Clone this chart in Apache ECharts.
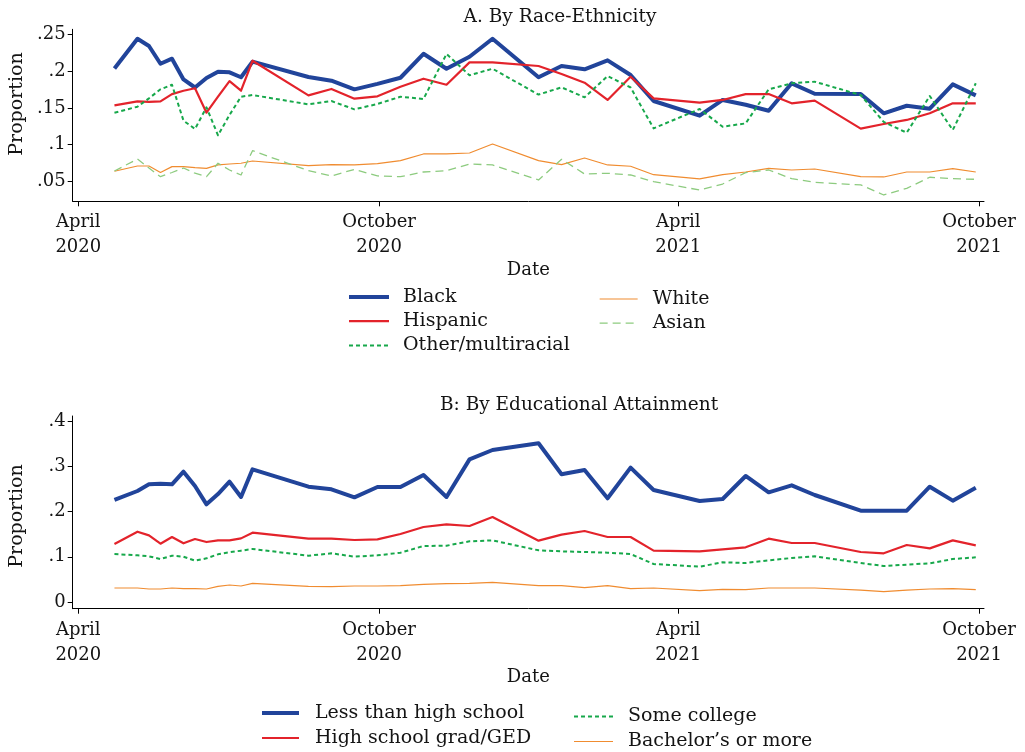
<!DOCTYPE html>
<html>
<head>
<meta charset="utf-8">
<title>Proportion by group, April 2020 – October 2021</title>
<script src="https://cdn.jsdelivr.net/npm/echarts@6/dist/echarts.min.js"></script>
<style>
  html, body { margin: 0; padding: 0; background: #fff; }
  #chart { width: 1025px; height: 752px; }
</style>
</head>
<body>
<div id="chart"></div>
<script>
// Survey week start dates (Household Pulse weeks 1–39)
const weekDates = [
  '2020-04-23','2020-05-07','2020-05-14','2020-05-21','2020-05-28','2020-06-04','2020-06-11',
  '2020-06-18','2020-06-25','2020-07-02','2020-07-09','2020-07-16','2020-08-19','2020-09-02',
  '2020-09-16','2020-09-30','2020-10-14','2020-10-28','2020-11-11','2020-11-25','2020-12-09',
  '2021-01-06','2021-01-20','2021-02-03','2021-02-17','2021-03-03','2021-03-17','2021-04-14',
  '2021-04-28','2021-05-12','2021-05-26','2021-06-09','2021-06-23','2021-07-21','2021-08-04',
  '2021-08-18','2021-09-01','2021-09-15','2021-09-29'
];

// Panel A: by race-ethnicity
const black = [0.204, 0.2445, 0.2346, 0.2104, 0.2173, 0.189, 0.178, 0.191, 0.1995, 0.1987, 0.192, 0.2132, 0.1923, 0.1873, 0.1755, 0.183, 0.1913, 0.224, 0.2036, 0.22, 0.2445, 0.192, 0.2073, 0.2028, 0.215, 0.195, 0.1596, 0.1395, 0.161, 0.1545, 0.1463, 0.1837, 0.1695, 0.169, 0.1428, 0.1531, 0.149, 0.1823, 0.1673];
const hispanic = [0.1537, 0.159, 0.1584, 0.159, 0.169, 0.1736, 0.177, 0.1436, 0.1654, 0.1868, 0.1736, 0.2145, 0.1673, 0.176, 0.1627, 0.166, 0.179, 0.19, 0.1818, 0.2123, 0.2123, 0.2073, 0.1964, 0.1845, 0.161, 0.1927, 0.1632, 0.1573, 0.161, 0.169, 0.169, 0.1564, 0.16, 0.1218, 0.1282, 0.1337, 0.1428, 0.1564, 0.1564];
const otherMulti = [0.1436, 0.1518, 0.1632, 0.1755, 0.1818, 0.1327, 0.1214, 0.151, 0.1128, 0.1405, 0.1654, 0.1677, 0.155, 0.1595, 0.1482, 0.1555, 0.1654, 0.1623, 0.2237, 0.1946, 0.2036, 0.1683, 0.1782, 0.1646, 0.1936, 0.178, 0.1222, 0.1486, 0.1245, 0.129, 0.1755, 0.1837, 0.1859, 0.1677, 0.131, 0.1163, 0.1664, 0.12, 0.1837];
const white = [0.0637, 0.0709, 0.0709, 0.062, 0.07, 0.07, 0.0686, 0.0677, 0.0723, 0.0736, 0.0746, 0.0777, 0.0713, 0.0727, 0.0723, 0.0741, 0.0782, 0.0873, 0.0873, 0.0886, 0.1009, 0.0782, 0.0727, 0.0818, 0.0723, 0.0705, 0.059, 0.0532, 0.059, 0.0627, 0.0677, 0.0654, 0.0668, 0.0563, 0.0559, 0.0627, 0.0627, 0.0672, 0.0627];
const asian = [0.064, 0.0804, 0.068, 0.0563, 0.062, 0.0681, 0.061, 0.0563, 0.0746, 0.0654, 0.0586, 0.0918, 0.0645, 0.0573, 0.0663, 0.0573, 0.0563, 0.0627, 0.0645, 0.0736, 0.0723, 0.0518, 0.08, 0.06, 0.0609, 0.0586, 0.0495, 0.0381, 0.0463, 0.0618, 0.0654, 0.0536, 0.0486, 0.045, 0.0313, 0.0404, 0.0555, 0.0536, 0.0527];

// Panel B: by educational attainment
const lessThanHS = [0.2257, 0.2456, 0.2603, 0.2618, 0.2603, 0.2883, 0.2566, 0.2161, 0.2389, 0.2662, 0.2323, 0.2935, 0.2551, 0.2493, 0.2316, 0.2544, 0.2544, 0.281, 0.2323, 0.3156, 0.3363, 0.3511, 0.2825, 0.292, 0.2294, 0.2972, 0.2478, 0.2235, 0.2279, 0.2788, 0.2427, 0.2581, 0.2367, 0.202, 0.202, 0.202, 0.2551, 0.2242, 0.2529];
const hsGrad = [0.1283, 0.1556, 0.1475, 0.129, 0.1438, 0.1298, 0.1394, 0.1327, 0.1364, 0.1364, 0.1408, 0.1534, 0.1401, 0.1401, 0.1372, 0.1386, 0.1504, 0.1659, 0.1718, 0.1681, 0.188, 0.1357, 0.149, 0.1571, 0.1438, 0.1438, 0.1136, 0.1121, 0.1165, 0.121, 0.1401, 0.1305, 0.1305, 0.1106, 0.1077, 0.1261, 0.1187, 0.1364, 0.1254];
const someCollege = [0.1062, 0.1032, 0.1011, 0.0951, 0.1025, 0.1003, 0.0914, 0.0966, 0.1055, 0.11, 0.1136, 0.1173, 0.1025, 0.1077, 0.1003, 0.1032, 0.1091, 0.1239, 0.1246, 0.1342, 0.1364, 0.1143, 0.1121, 0.1106, 0.1091, 0.1062, 0.0841, 0.0782, 0.0878, 0.0863, 0.0922, 0.0973, 0.1011, 0.0863, 0.0796, 0.0826, 0.0856, 0.0951, 0.0988];
const bachelors = [0.031, 0.031, 0.0288, 0.0288, 0.031, 0.0295, 0.0295, 0.0288, 0.0347, 0.0376, 0.0354, 0.0413, 0.0347, 0.034, 0.0354, 0.0354, 0.0361, 0.039, 0.0405, 0.0413, 0.0435, 0.0361, 0.0361, 0.0317, 0.0361, 0.0295, 0.031, 0.0251, 0.028, 0.0273, 0.031, 0.031, 0.031, 0.0265, 0.0229, 0.0265, 0.0288, 0.0295, 0.0273];

// Axis ticks and labels
const xTickDates = ['2020-04-01', '2020-10-01', '2021-04-01', '2021-10-01'];
const xTickLabels = ['April\n2020', 'October\n2020', 'April\n2021', 'October\n2021'];
const yTicksA = [0.05, 0.1, 0.15, 0.2, 0.25];
const yTicksB = [0, 0.1, 0.2, 0.3, 0.4];

const toTime = s => { const [y, m, d] = s.split('-').map(Number); return Date.UTC(y, m - 1, d); };
const DAY = 864e5;
const xTicks = xTickDates.map(toTime);
const xMin = xTicks[0] - 3.4 * DAY;
const xMax = xTicks[0] + 551 * DAY;
const pairs = vals => weekDates.map((d, i) => [toTime(d), vals[i]]);

const FONT = '"DejaVu Serif", serif';
const TXT = '#141414';

function xAxisFor(gridIndex) {
  return {
    type: 'value', gridIndex, min: xMin, max: xMax,
    name: 'Date', nameLocation: 'middle', nameGap: 58,
    nameTextStyle: { fontFamily: FONT, fontSize: 18, color: TXT },
    axisLine: { show: true, onZero: false, lineStyle: { color: '#000', width: 1 } },
    axisTick: { show: true, length: 5, customValues: xTicks, lineStyle: { color: '#000' } },
    axisLabel: {
      customValues: xTicks, margin: 9, fontFamily: FONT, fontSize: 18, color: TXT, lineHeight: 25,
      formatter: v => { const i = xTicks.indexOf(v); return i >= 0 ? xTickLabels[i] : ''; }
    },
    splitLine: { show: false }
  };
}
function yAxisFor(gridIndex, min, max, ticks) {
  return {
    type: 'value', gridIndex, min, max,
    axisLine: { show: true, onZero: false, lineStyle: { color: '#000', width: 1 } },
    axisTick: { show: true, length: 5, customValues: ticks, lineStyle: { color: '#000' } },
    axisLabel: {
      customValues: ticks, margin: 7, fontFamily: FONT, fontSize: 18, color: TXT,
      formatter: v => v === 0 ? '0' : String(+v.toFixed(2)).replace(/^0\./, '.')
    },
    splitLine: { show: false }
  };
}
function line(name, vals, idx, color, width, type) {
  return {
    name, type: 'line', xAxisIndex: idx, yAxisIndex: idx, data: pairs(vals),
    symbol: 'none', showSymbol: false, silent: true, animation: false,
    lineStyle: { color, width, type: type || 'solid', cap: 'butt', join: 'round' },
    itemStyle: { color }
  };
}
// One legend column; rowCenter is the vertical centre of the first entry
function legendCol(names, left, rowCenter, itemWidth, pad, gap) {
  return {
    data: names, orient: 'vertical', left, top: rowCenter - 9.5, height: 80, padding: 0,
    itemWidth, itemHeight: 14, itemGap: gap, selectedMode: false,
    itemStyle: { opacity: 0 },
    lineStyle: { width: 'inherit', type: 'inherit' },
    textStyle: { fontFamily: FONT, fontSize: 19, color: TXT, lineHeight: 19, padding: [0, 0, 0, pad] }
  };
}

const C = { blue: '#21449a', red: '#e3232b', green: '#17a84b', orange: '#f08c30', lgreen: '#8dcb7f' };

const chart = echarts.init(document.getElementById('chart'), null, { renderer: 'canvas' });
chart.setOption({
  backgroundColor: '#fff',
  animation: false,
  grid: [
    { left: 72.7, right: 1025 - 984, top: 29.3, height: 172 },
    { left: 72.7, right: 1025 - 984, top: 416, height: 192.7 }
  ],
  xAxis: [xAxisFor(0), xAxisFor(1)],
  yAxis: [yAxisFor(0, 0.0227, 0.2574, yTicksA), yAxisFor(1, -0.0148, 0.4115, yTicksB)],
  legend: [
    legendCol(['Black', 'Hispanic', 'Other/multiracial'], 347, 297, 40, 9, 5.2),
    legendCol(['White', 'Asian'], 599, 299, 38, 10, 5.2),
    legendCol(['Less than high school', 'High school grad/GED'], 260, 713, 37, 11, 6),
    legendCol(['Some college', 'Bachelor’s or more'], 573, 716.5, 39, 10, 6)
  ],
  series: [
    line('Black', black, 0, C.blue, 4),
    line('Hispanic', hispanic, 0, C.red, 2.2),
    line('Other/multiracial', otherMulti, 0, C.green, 2, [4, 3]),
    line('White', white, 0, C.orange, 1.2),
    line('Asian', asian, 0, C.lgreen, 1.3, [8, 5]),
    line('Less than high school', lessThanHS, 1, C.blue, 4),
    line('High school grad/GED', hsGrad, 1, C.red, 2.2),
    line('Some college', someCollege, 1, C.green, 2, [4, 3]),
    line('Bachelor’s or more', bachelors, 1, C.orange, 1.2)
  ],
  graphic: [
    { type: 'text', x: 560, y: 17, style: { text: 'A. By Race-Ethnicity', font: '18.5px ' + FONT, fill: TXT, textAlign: 'center', textVerticalAlign: 'middle' } },
    { type: 'text', x: 579, y: 405, style: { text: 'B: By Educational Attainment', font: '18.5px ' + FONT, fill: TXT, textAlign: 'center', textVerticalAlign: 'middle' } },
    { type: 'text', x: 17, y: 104, rotation: Math.PI / 2, style: { text: 'Proportion', font: '19px ' + FONT, fill: TXT, textAlign: 'center', textVerticalAlign: 'middle' } },
    { type: 'text', x: 17, y: 516, rotation: Math.PI / 2, style: { text: 'Proportion', font: '19px ' + FONT, fill: TXT, textAlign: 'center', textVerticalAlign: 'middle' } }
  ]
});
</script>
</body>
</html>
